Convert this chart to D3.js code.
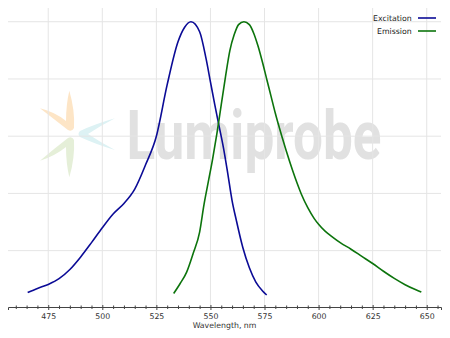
<!DOCTYPE html>
<html>
<head>
<meta charset="utf-8">
<script src="https://cdn.jsdelivr.net/npm/d3@7"></script>
<style>
  html, body { margin: 0; padding: 0; background: #fff; }
  svg { display: block; font-family: "DejaVu Sans", sans-serif; }
</style>
</head>
<body>
<div id="chart"></div>
<script>
// Excitation spectrum (wavelength nm, normalized intensity)
var excitationNm  = [465.5, 470, 475, 480, 485, 490, 495, 500, 505, 510, 515, 520, 525, 530, 535, 538, 541, 545, 548, 550, 552, 554, 556, 558, 560, 562, 565, 568, 571, 574, 576];
var excitationVal = [0.054, 0.068, 0.082, 0.102, 0.134, 0.178, 0.228, 0.28, 0.328, 0.365, 0.415, 0.50, 0.60, 0.78, 0.93, 0.98, 1.0, 0.965, 0.87, 0.79, 0.71, 0.635, 0.56, 0.47, 0.375, 0.305, 0.21, 0.14, 0.09, 0.06, 0.045];

// Emission spectrum
var emissionNm  = [533, 536, 539, 542, 545, 547, 549, 551, 553, 555, 557, 559, 561, 563, 565.5, 568, 570, 572, 574, 576, 578, 580, 583, 585, 588, 590, 592, 595, 598, 600, 603, 606, 610, 615, 620, 625, 630, 635, 640, 645, 647.5];
var emissionVal = [0.05, 0.085, 0.125, 0.19, 0.265, 0.36, 0.44, 0.52, 0.61, 0.71, 0.81, 0.90, 0.955, 0.99, 1.0, 0.99, 0.96, 0.915, 0.86, 0.80, 0.74, 0.68, 0.60, 0.55, 0.48, 0.437, 0.398, 0.35, 0.312, 0.292, 0.268, 0.25, 0.228, 0.205, 0.18, 0.155, 0.128, 0.103, 0.081, 0.063, 0.055];

var xTicks = [475, 500, 525, 550, 575, 600, 625, 650];
var yGrid  = [0.2, 0.4, 0.6, 0.8, 1.0];
var seriesNames = ["Excitation", "Emission"];

var w = 450, h = 338;
var margin = {top: 8, right: 9, bottom: 31, left: 8},
    width = w - margin.left - margin.right,
    height = h - margin.top - margin.bottom;

var svg = d3.select("#chart").append("svg")
    .attr("width", w)
    .attr("height", h);

var g = svg.append("g")
    .attr("transform", "translate(" + margin.left + "," + margin.top + ")");

var x = d3.scaleLinear().domain([456.4, 656.6]).range([0, width]);
var y = d3.scaleLinear().domain([0.003, 1.048]).range([height, 0]);

// ****************** watermark ***************************
var logo = g.append("g").attr("class", "watermark");
// orange petal pair
logo.append("path")
    .attr("d", "M61.3 82.7 Q67 102 66 120 Q64 124 60 122 Q47 112 32 100.3 Q47 104 58 113 Q58 97 61.3 82.7 Z")
    .attr("fill", "#fde5c6");
// cyan chevron
logo.append("path")
    .attr("d", "M107 110.3 Q87 116 72 123 Q69 126 72 129 Q87 136 107 142 Q92 134 80 126 Q92 118 107 110.3 Z")
    .attr("fill", "#ddf2f4");
// green petal pair
logo.append("path")
    .attr("d", "M61.3 169.3 Q67 150 66 132 Q64 128 60 130 Q47 140 32 152.7 Q47 148 58 139 Q58 155 61.3 169.3 Z")
    .attr("fill", "#e5efd8");

logo.append("text")
    .attr("x", 118.5)
    .attr("y", 150.5)
    .attr("textLength", 255)
    .attr("lengthAdjust", "spacingAndGlyphs")
    .style("font-family", "Roboto, sans-serif")
    .style("font-weight", "bold")
    .style("font-size", "69px")
    .attr("fill", "#e1e1e1")
    .text("Lumiprobe");

// ****************** grid ***************************
g.append("g").selectAll("line.vgrid")
    .data(xTicks)
  .enter().append("line")
    .attr("class", "vgrid")
    .attr("x1", function(d) { return x(d); })
    .attr("x2", function(d) { return x(d); })
    .attr("y1", 0)
    .attr("y2", height)
    .attr("stroke", "#e5e5e5")
    .attr("stroke-width", 1);

g.append("g").selectAll("line.hgrid")
    .data(yGrid)
  .enter().append("line")
    .attr("class", "hgrid")
    .attr("x1", 0)
    .attr("x2", width)
    .attr("y1", function(d) { return y(d); })
    .attr("y2", function(d) { return y(d); })
    .attr("stroke", "#e5e5e5")
    .attr("stroke-width", 1);

// ****************** x axis ***************************
var xAxis = g.append("g")
    .attr("transform", "translate(0," + height + ")");

// minor ticks every 5 nm
var minor = d3.range(460, 656, 5).filter(function(d) { return d % 25 !== 0; });
xAxis.call(d3.axisBottom(x).tickValues(minor).tickSize(2).tickFormat(""));
xAxis.selectAll(".tick line").attr("y1", -1.5).attr("stroke", "#444");

var xMajor = g.append("g")
    .attr("transform", "translate(0," + height + ")")
    .call(d3.axisBottom(x).tickValues(xTicks).tickSize(3).tickPadding(3).tickFormat(d3.format("d")));
xMajor.selectAll(".tick line").attr("y1", -2).attr("stroke", "#444");
xMajor.selectAll(".tick text")
    .style("font-family", "DejaVu Sans, sans-serif")
    .style("font-size", "7.8px")
    .attr("fill", "#333");
xMajor.select(".domain").attr("stroke", "#444");
xAxis.select(".domain").remove();

g.append("text")
    .attr("x", width / 2)
    .attr("y", height + 20.5)
    .attr("text-anchor", "middle")
    .style("font-size", "7.8px")
    .attr("fill", "#333")
    .text("Wavelength, nm");

// ****************** lines ***************************
var line = d3.line()
    .x(function(d) { return x(d[0]); })
    .y(function(d) { return y(d[1]); })
    .curve(d3.curveMonotoneX);

var series = [
  {name: seriesNames[0], color: "#0b0b96", data: d3.zip(excitationNm, excitationVal)},
  {name: seriesNames[1], color: "#0c740c", data: d3.zip(emissionNm, emissionVal)}
];

g.selectAll("path.spectrum")
    .data(series)
  .enter().append("path")
    .attr("class", "spectrum")
    .attr("d", function(d) { return line(d.data); })
    .attr("fill", "none")
    .attr("stroke", function(d) { return d.color; })
    .attr("stroke-width", 1.6);

// ****************** legend ***************************
var legend = g.selectAll("g.legend")
    .data(series)
  .enter().append("g")
    .attr("class", "legend")
    .attr("transform", function(d, i) { return "translate(0," + (10 + i * 13) + ")"; });

legend.append("text")
    .attr("x", 403.7)
    .attr("dy", "0.35em")
    .attr("text-anchor", "end")
    .style("font-size", "7.8px")
    .attr("fill", "#222")
    .text(function(d) { return d.name; });

legend.append("line")
    .attr("x1", 410)
    .attr("x2", 428)
    .attr("stroke", function(d) { return d.color; })
    .attr("stroke-width", 1.6);
</script>
</body>
</html>
